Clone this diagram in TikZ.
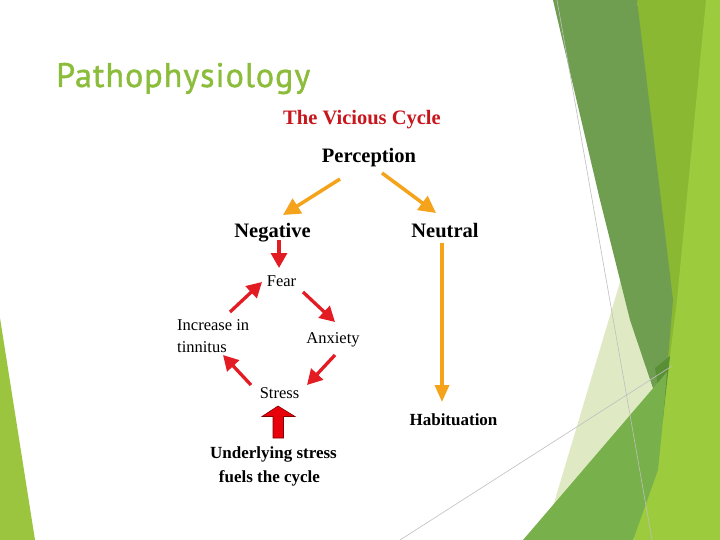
\documentclass[tikz,border=0pt]{standalone}
\usepackage{fontspec}
\setmainfont{Liberation Serif}
\newfontfamily\titlefont[LetterSpace=3,FakeBold=1.2]{PT Sans}
\usetikzlibrary{arrows.meta}
\definecolor{ttlgreen}{HTML}{8BBC3A}
\definecolor{vicred}{HTML}{C8161D}
\definecolor{orng}{HTML}{F5A31A}
\definecolor{arred}{HTML}{E31B23}
\definecolor{blkred}{HTML}{E8000B}
\definecolor{gA}{HTML}{6F9E50}
\definecolor{gB}{HTML}{8AB833}
\definecolor{gC}{HTML}{9CCB3E}
\definecolor{gPale}{HTML}{DFEAC4}
\definecolor{gDark}{HTML}{5A9035}
\definecolor{gMid}{HTML}{78B04B}
\definecolor{gLeft}{HTML}{9BC43F}
\tikzset{
  bigtxt/.style={font=\fontsize{20.5}{22}\selectfont\bfseries, inner sep=0pt},
  midtxt/.style={font=\fontsize{17}{19}\selectfont\bfseries, inner sep=0pt},
  regtxt/.style={font=\fontsize{16.5}{18}\selectfont, inner sep=0pt},
  oarrow/.style={draw=orng, line width=3.5pt, -{Triangle[length=17pt,width=17pt]}},
  varrow/.style={draw=orng, line width=3.5pt, -{Triangle[length=17pt,width=14pt]}},
  rarrow/.style={draw=arred, line width=3.3pt, -{Triangle[length=15pt,width=16pt]}},
  thinline/.style={draw=black!25, line width=0.6pt}
}
\begin{document}
\begin{tikzpicture}[x=1pt,y=-1pt]
\useasboundingbox (0,0) rectangle (720,540);
\fill[white] (0,0) rectangle (720,540);
% decorative background
\fill[gLeft] (0,318) -- (35,540) -- (0,540) -- cycle;
\fill[gB] (637,0) -- (720,0) -- (720,540) -- (655,540) -- (668,400) -- cycle;
\fill[gC] (706,0) -- (720,0) -- (720,540) -- (633,540) -- (662,420) -- (677,300) -- cycle;
\fill[gPale] (543,540) -- (626,262) -- (650,380) -- (663,418) -- (633,540) -- cycle;
\fill[gA] (553,0) -- (637,0) -- (673,300) -- (663,418) -- (630,320) -- (600,200) -- cycle;
\fill[gDark] (655,368) -- (670,356) -- (663,418) -- cycle;
\fill[gMid] (523,540) -- (667,372) -- (663,420) -- (658,470) -- (633,540) -- cycle;
\draw[thinline] (557,0) -- (652,540);
\draw[thinline] (400,540) -- (672,366);
% title
\node[anchor=base west, inner sep=0pt, text=ttlgreen, font=\titlefont\fontsize{34}{38}\selectfont] (title) at (56,87) {Pathophysiology};
% texts
\node[bigtxt, text=vicred, anchor=base] (vic) at (362,125) {The Vicious Cycle};
\node[bigtxt, anchor=base] (perc) at (369,163) {Perception};
\node[bigtxt, anchor=base] (neg) at (272.5,237) {Negative};
\node[bigtxt, anchor=base] (neu) at (445,237) {Neutral};
\node[regtxt, anchor=base] (fear) at (281.5,286) {Fear};
\node[regtxt, anchor=base west] (inc) at (177,330) {Increase in};
\node[regtxt, anchor=base west] (tin) at (177,352) {tinnitus};
\node[regtxt, anchor=base] (anx) at (333,343) {Anxiety};
\node[regtxt, anchor=base] (str) at (279.5,398) {Stress};
\node[midtxt, anchor=base] (hab) at (453.5,425) {Habituation};
\node[midtxt, anchor=base] (und) at (273.5,458) {Underlying stress};
\node[midtxt, anchor=base] (fue) at (269.5,482) {fuels the cycle};
% arrow end points
\coordinate (percL) at (340,179);
\coordinate (negT) at (283,215);
\coordinate (percR) at (382,173);
\coordinate (neuT) at (436,213);
\coordinate (neuB) at (442,243);
\coordinate (habT) at (442,402);
\coordinate (negB) at (279,240);
\coordinate (fearT) at (279,268);
\coordinate (fearR) at (303,292);
\coordinate (anxT) at (335,322);
\coordinate (anxB) at (335,355);
\coordinate (strR) at (307,385);
\coordinate (strL) at (251,385);
\coordinate (incB) at (223,355);
\coordinate (incT) at (230,312);
\coordinate (fearL) at (262,282);
% connectors
\draw[oarrow] (percL) -- (negT);
\draw[oarrow] (percR) -- (neuT);
\draw[varrow] (neuB) -- (habT);
\draw[rarrow] (negB) -- (fearT);
\draw[rarrow] (fearR) -- (anxT);
\draw[rarrow] (anxB) -- (strR);
\draw[rarrow] (strL) -- (incB);
\draw[rarrow] (incT) -- (fearL);
% block arrow
\filldraw[fill=blkred, draw=red!50!black, line width=0.6pt]
  (278,406) -- (295,416.5) -- (283.5,416.5) -- (283.5,438) -- (273,438) -- (273,416.5) -- (262,416.5) -- cycle;
\end{tikzpicture}
\end{document}
